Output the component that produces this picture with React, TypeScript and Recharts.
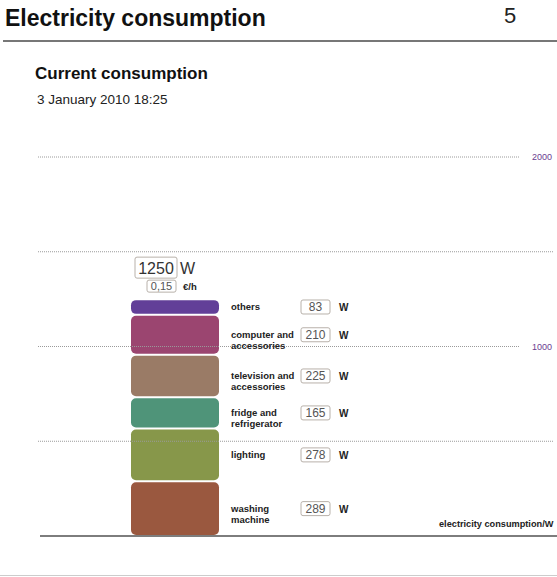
import { BarChart, Bar, XAxis, YAxis, ReferenceLine, LabelList, Rectangle } from 'recharts';

// stack order: bottom -> top
const categories = [
  'washing machine',
  'lighting',
  'fridge and refrigerator',
  'television and accessories',
  'computer and accessories',
  'others',
];
const labelLines = [
  ['washing', 'machine'],
  ['lighting'],
  ['fridge and', 'refrigerator'],
  ['television and', 'accessories'],
  ['computer and', 'accessories'],
  ['others'],
];
const watts = [289, 278, 165, 225, 210, 83];
const segmentColors = ['#9a583f', '#87974a', '#4f9479', '#9a7b66', '#9b4570', '#623f98'];
const totalCost = '0,15';
const gridValues = [500, 1000, 1500, 2000];
const gridLabels = ['', '1000', '', '2000'];
const axisTitle = 'electricity consumption/W';
const timestamp = '3 January 2010 18:25';
const pageNumber = '5';

const FONT = '"Liberation Sans", Arial, sans-serif';
const BOX_STROKE = '#b8b1aa';

const chartData = [
  watts.reduce<Record<string, number | string>>(
    (row, w, i) => {
      row[`s${i}`] = w;
      return row;
    },
    { name: 'now' },
  ),
];
const total = watts.reduce((a, b) => a + b, 0);

const SegmentShape = (props: any) => {
  const { x, y, width, height, fill } = props;
  return (
    <Rectangle x={x} y={y + 1} width={width} height={Math.max(height - 2, 0)} radius={5} fill={fill} />
  );
};

function getBox(props: any) {
  const vb = props.viewBox && props.viewBox.width != null ? props.viewBox : props;
  return { x: Number(vb.x), y: Number(vb.y), w: Number(vb.width), h: Number(vb.height) };
}

function makeLegend(i: number) {
  return (props: any) => {
    const { x, y, w, h } = getBox(props);
    const mid = y + h / 2;
    const right = x + w;
    return (
      <g>
        {labelLines[i].map((line, k) => (
          <text
            key={k}
            x={right + 12}
            y={mid + 3.5 + k * 11}
            fontFamily={FONT}
            fontSize={9.5}
            fontWeight="bold"
            fill="#222"
          >
            {line}
          </text>
        ))}
        <rect x={right + 82} y={mid - 7} width={29} height={14} rx={2} fill="#fff" stroke={BOX_STROKE} />
        <text x={right + 96.5} y={mid + 4.5} textAnchor="middle" fontFamily={FONT} fontSize={12} fill="#555">
          {watts[i]}
        </text>
        <text x={right + 120} y={mid + 4} fontFamily={FONT} fontSize={10} fontWeight="bold" fill="#222">
          W
        </text>
      </g>
    );
  };
}

const TotalLabel = (props: any) => {
  const { x, y } = getBox(props);
  return (
    <g>
      <rect x={x + 4} y={y - 42} width={42} height={21} rx={2} fill="#fff" stroke={BOX_STROKE} />
      <text x={x + 25} y={y - 25.5} textAnchor="middle" fontFamily={FONT} fontSize={16} fill="#333">
        {total}
      </text>
      <text x={x + 49} y={y - 25.5} fontFamily={FONT} fontSize={16} fill="#333">
        W
      </text>
      <rect x={x + 16} y={y - 19} width={29} height={12} rx={2} fill="#fff" stroke={BOX_STROKE} />
      <text x={x + 30.5} y={y - 9} textAnchor="middle" fontFamily={FONT} fontSize={11} fill="#555">
        {totalCost}
      </text>
      <text x={x + 52} y={y - 9.5} fontFamily={FONT} fontSize={9.5} fontWeight="bold" fill="#222">
        €/h
      </text>
    </g>
  );
};

function gridShape(label: string) {
  return (props: any) => {
    const x1 = Math.min(props.x1, props.x2);
    const x2 = Math.max(props.x1, props.x2);
    const y = props.y1;
    return (
      <g>
        <line
          x1={x1}
          y1={y}
          x2={label ? x2 - 33 : x2}
          y2={y}
          stroke="#9a9a9a"
          strokeWidth={1}
          strokeDasharray="1 1"
        />
        {label && (
          <text x={x2 - 21} y={y + 3} fontFamily={FONT} fontSize={9} fill="#6a3d8f">
            {label}
          </text>
        )}
      </g>
    );
  };
}

const BaseLine = (props: any) => {
  const x1 = Math.min(props.x1, props.x2);
  const x2 = Math.max(props.x1, props.x2);
  return (
    <g>
      <line x1={x1 + 2} y1={props.y1} x2={x2 + 4} y2={props.y1} stroke="#7d7d7d" strokeWidth={2} />
      <text x={x2 - 114} y={props.y1 - 9} fontFamily={FONT} fontSize={9.2} fontWeight="bold" fill="#222">
        {axisTitle}
      </text>
    </g>
  );
};

export default function App() {
  return (
    <div style={{ position: 'absolute', left: 0, top: 0, width: 557, height: 577, background: '#fff', overflow: 'hidden' }}>
      <div style={{ position: 'absolute', left: 5, top: 5, fontFamily: FONT, fontWeight: 'bold', fontSize: 23, lineHeight: '26px', color: '#111' }}>
        Electricity consumption
      </div>
      <div style={{ position: 'absolute', left: 504, top: 3, fontFamily: FONT, fontSize: 22, lineHeight: '26px', color: '#222' }}>
        {pageNumber}
      </div>
      <div style={{ position: 'absolute', left: 3, top: 40, width: 554, height: 2, background: '#777' }} />
      <div style={{ position: 'absolute', left: 35, top: 63, fontFamily: FONT, fontWeight: 'bold', fontSize: 17, lineHeight: '22px', color: '#111' }}>
        Current consumption
      </div>
      <div style={{ position: 'absolute', left: 37, top: 92, fontFamily: FONT, fontSize: 13.5, lineHeight: '16px', color: '#222' }}>
        {timestamp}
      </div>
      <div style={{ position: 'absolute', left: 0, top: 575, width: 557, height: 1, background: '#ccc' }} />
      <div style={{ position: 'absolute', left: 0, top: 0 }}>
        <BarChart width={557} height={577} data={chartData} margin={{ top: 157, right: 4, bottom: 41, left: 38 }}>
          <XAxis dataKey="name" hide padding={{ left: 0, right: 241 }} />
          <YAxis type="number" domain={[0, 2000]} hide />
          {gridValues.map((v, i) => (
            <ReferenceLine key={v} y={v} shape={gridShape(gridLabels[i])} />
          ))}
          {watts.map((_, i) => (
            <Bar
              key={i}
              dataKey={`s${i}`}
              name={categories[i]}
              stackId="total"
              barSize={88}
              fill={segmentColors[i]}
              shape={SegmentShape}
              isAnimationActive={false}
            >
              <LabelList dataKey={`s${i}`} content={makeLegend(i)} />
              {i === watts.length - 1 && <LabelList dataKey={`s${i}`} content={TotalLabel} />}
            </Bar>
          ))}
          <ReferenceLine y={0} shape={BaseLine} />
        </BarChart>
      </div>
    </div>
  );
}
